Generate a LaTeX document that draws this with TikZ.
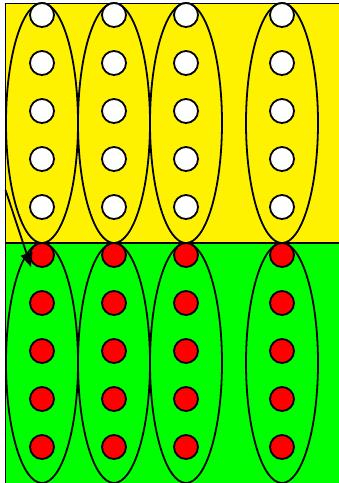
\documentclass[tikz,border=0pt]{standalone}
\usetikzlibrary{shapes.geometric,arrows.meta}
\begin{document}
\begin{tikzpicture}[x=1pt,y=-1pt,
  lw/.style={line width=1.8pt},
  region/.style={lw,draw=black},
  group/.style={ellipse,draw=black,lw,minimum width=72pt,minimum height=240pt,inner sep=0pt},
  whitedot/.style={circle,draw=black,lw,fill=white,minimum size=24pt,inner sep=0pt},
  reddot/.style={circle,draw=black,lw,fill=red,minimum size=24pt,inner sep=0pt}]
\useasboundingbox (0,0) rectangle (339,483);
\clip (0,0) rectangle (339,483);
\fill[yellow] (5.5,3.5) rectangle (350,243);
\fill[green] (5.5,243) rectangle (350,495);
\draw[region] (350,3.5) -- (5.5,3.5) -- (5.5,495);
\draw[region] (5.5,243) -- (350,243);
\foreach \c/\x in {1/42,2/114,3/186,4/282}{
  \node[group] (top\c) at (\x,123) {};
  \node[group] (bot\c) at (\x,363) {};
  \foreach \r in {1,...,5}{
    \node[whitedot] (w\c\r) at (\x,{15+48*(\r-1)}) {};
    \node[reddot] (r\c\r) at (\x,{255+48*(\r-1)}) {};
  }
}
\coordinate (as) at (5.5,190);
\coordinate (ae) at (31,267);
\draw[lw,arrows={-Triangle[length=14pt,width=12pt,fill=black]}] (as) -- (ae);
\end{tikzpicture}
\end{document}
